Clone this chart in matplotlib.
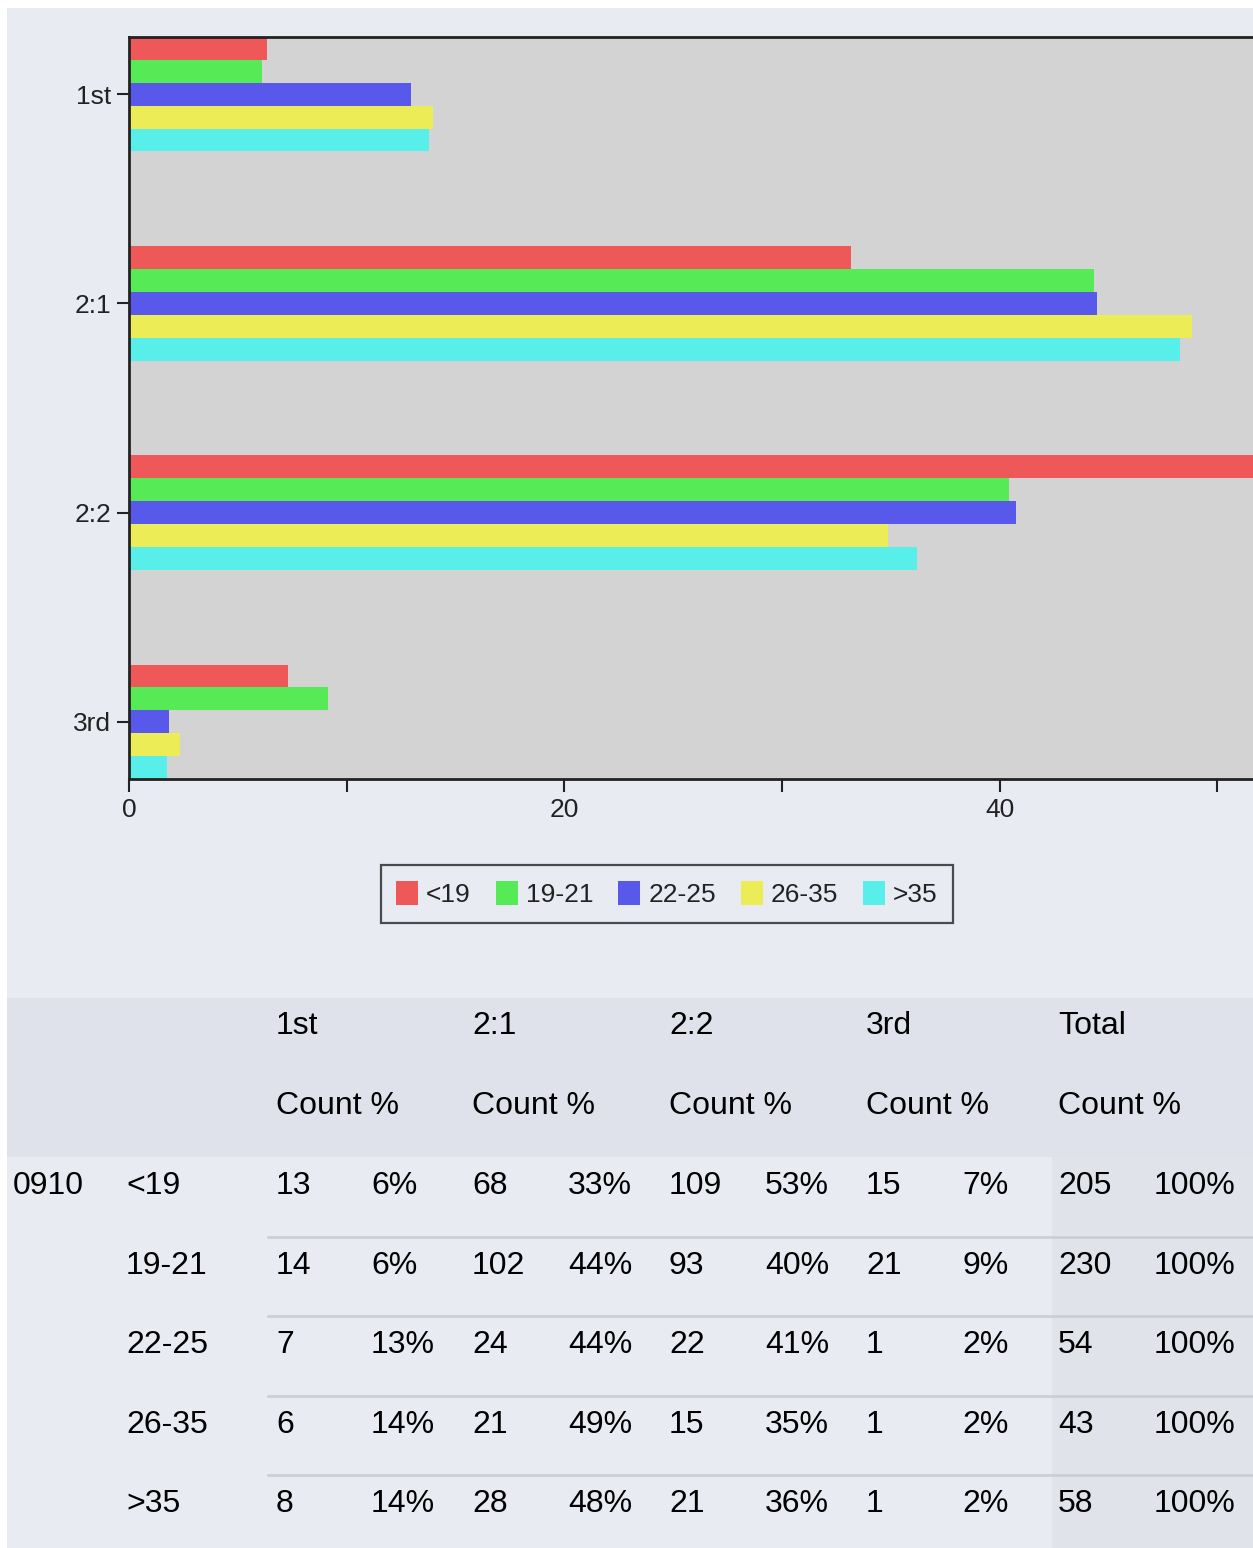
import numpy as np
import matplotlib.pyplot as plt
from matplotlib.patches import Rectangle, Patch

# counts of degree class by age group, year 0910
classes = ['1st', '2:1', '2:2', '3rd']
ages = ['<19', '19-21', '22-25', '26-35', '>35']
cnt_1st = [13, 14, 7, 6, 8]
cnt_21 = [68, 102, 24, 21, 28]
cnt_22 = [109, 93, 22, 15, 21]
cnt_3rd = [15, 21, 1, 1, 1]
year = '0910'

colors = ['#ee5858', '#56ea56', '#5858ea', '#ecec56', '#58eeea']
bg = '#e8ebf2'

counts = np.array([cnt_1st, cnt_21, cnt_22, cnt_3rd]).T   # rows = age groups
totals = counts.sum(axis=1)
pct = counts / totals[:, None] * 100

W, H = 1253, 1548
fig = plt.figure(figsize=(W / 100, H / 100), dpi=100)
fig.patch.set_facecolor('white')


def fx(x):
    return x / W


def fy(y):
    return 1 - y / H


# page background
fig.patches.append(Rectangle((fx(7), 0), 1, fy(8), transform=fig.transFigure,
                             facecolor=bg, edgecolor='none', zorder=-10))

# ---- bar chart ----
px_unit = 21.77
xmax = 55
ax = fig.add_axes([fx(129), fy(779), xmax * px_unit / W, (779 - 37) / H])
ax.set_facecolor('#d3d3d3')
h = 0.1094
ypos = np.arange(len(classes))
for i, a in enumerate(ages):
    ax.barh(ypos + (i - 2) * h, pct[i], height=h, color=colors[i], linewidth=0)
ax.set_xlim(0, xmax)
ax.set_ylim(len(classes) - 1 + 2.5 * h, -2.5 * h)
ax.set_yticks(ypos)
ax.set_yticklabels(classes)
ax.set_xticks(np.arange(0, 60, 10))
ax.set_xticklabels([str(v) if v % 20 == 0 else '' for v in range(0, 60, 10)])
for s in ax.spines.values():
    s.set_color('#222222')
    s.set_linewidth(2)
ax.tick_params(axis='both', length=9, width=1.5, color='#222222',
               labelsize=19, labelcolor='#222222')
ax.tick_params(axis='x', pad=5)
ax.tick_params(axis='y', pad=4)
for lab in ax.get_xticklabels() + ax.get_yticklabels():
    lab.set_family('Liberation Sans')

handles = [Patch(facecolor=c, edgecolor='none') for c in colors]
leg = fig.legend(handles, ages, loc='center', bbox_to_anchor=(fx(667), fy(894)),
                 ncol=5, frameon=True, fancybox=False,
                 prop={'family': 'Liberation Sans', 'size': 19},
                 handlelength=0.83, handleheight=1.05, handletextpad=0.3,
                 columnspacing=0.95, borderpad=0.6, borderaxespad=0)
leg.get_frame().set_edgecolor('#222222')
leg.get_frame().set_linewidth(1.6)
leg.get_frame().set_facecolor(bg)
for t in leg.get_texts():
    t.set_color('#222222')

# ---- table ----
fig.patches.append(Rectangle((fx(7), fy(1157)), 1, (1157 - 998) / H,
                             transform=fig.transFigure, facecolor='#dfe2ea',
                             edgecolor='none', zorder=-5))
fig.patches.append(Rectangle((fx(1052), 0), 1, fy(1157),
                             transform=fig.transFigure, facecolor='#e0e3ea',
                             edgecolor='none', zorder=-5))

tfont = dict(family='Liberation Sans', size=23, color='black', va='baseline')
col_x = [276, 472, 669, 866]
pct_x = [371, 568, 765, 962]
tot_x, totp_x = 1058, 1154
head_y1, head_y2 = 1034, 1114
row_y0, row_h = 1194, 79.6

for c, x in zip(classes, col_x):
    fig.text(fx(x), fy(head_y1), c, **tfont)
    fig.text(fx(x), fy(head_y2), 'Count %', **tfont)
fig.text(fx(tot_x), fy(head_y1), 'Total', **tfont)
fig.text(fx(tot_x), fy(head_y2), 'Count %', **tfont)

fig.text(fx(13), fy(row_y0), year, **tfont)
for r, a in enumerate(ages):
    y = row_y0 + r * row_h
    fig.text(fx(126), fy(y), a, **tfont)
    for j in range(len(classes)):
        fig.text(fx(col_x[j]), fy(y), str(counts[r, j]), **tfont)
        fig.text(fx(pct_x[j]), fy(y), '%d%%' % round(pct[r, j]), **tfont)
    fig.text(fx(tot_x), fy(y), str(totals[r]), **tfont)
    fig.text(fx(totp_x), fy(y), '100%', **tfont)
    if r > 0:
        yl = fy(1157 + r * row_h)
        fig.add_artist(plt.Line2D([fx(268), 1], [yl, yl], transform=fig.transFigure,
                                  color='#c9cdd1', linewidth=1.8))

fig.savefig('out.png', dpi=100, facecolor=fig.get_facecolor())
